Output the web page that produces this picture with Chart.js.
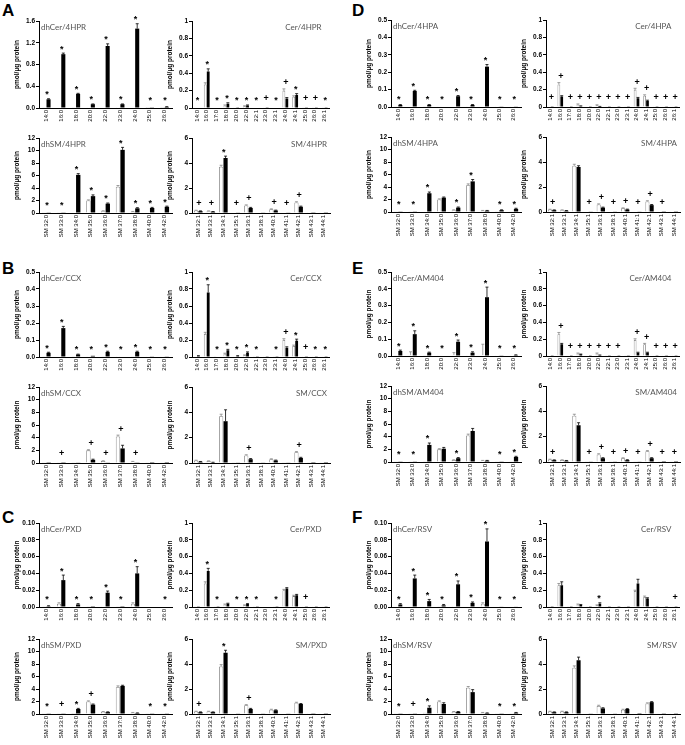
<!DOCTYPE html>
<html>
<head>
<meta charset="utf-8">
<script src="https://cdn.jsdelivr.net/npm/chart.js@4.4.0/dist/chart.umd.min.js"></script>
<style>
  body { margin: 0; width: 685px; height: 745px; background: #fff; position: relative; overflow: hidden; }
  canvas { position: absolute; }
  .lbl { position: absolute; font: bold 17px "Liberation Sans", Arial, sans-serif; line-height: 17px; }
</style>
</head>
<body>
<div class="lbl" style="left:2px;top:2px">A</div>
<div class="lbl" style="left:352px;top:2px">D</div>
<div class="lbl" style="left:2px;top:260px">B</div>
<div class="lbl" style="left:352px;top:260px">E</div>
<div class="lbl" style="left:2px;top:509px">C</div>
<div class="lbl" style="left:352px;top:509px">F</div>
<script>
"use strict";
// categories
const dhCerCats = ["14:0", "16:0", "18:0", "20:0", "22:0", "23:0", "24:0", "25:0", "26:0"];
const cerCats = ["14:0", "16:0", "17:0", "18:0", "20:0", "22:0", "22:1", "23:0", "23:1", "24:0", "24:1", "25:0", "26:0", "26:1"];
const dhSmCats = ["SM 32:0", "SM 33:0", "SM 34:0", "SM 35:0", "SM 36:0", "SM 37:0", "SM 38:0", "SM 40:0", "SM 42:0"];
const smCats = ["SM 32:1", "SM 33:1", "SM 34:1", "SM 35:1", "SM 36:1", "SM 38:1", "SM 40:1", "SM 41:1", "SM 42:1", "SM 43:1", "SM 44:1"];

// tick labels
const ticks16 = ["0.0", "0.4", "0.8", "1.2", "1.6"];
const ticks05 = ["0.0", "0.1", "0.2", "0.3", "0.4", "0.5"];
const ticks010 = ["0.00", "0.02", "0.04", "0.06", "0.08", "0.10"];
const ticks1 = ["0", "0.2", "0.4", "0.6", "0.8", "1"];
const ticks12 = ["0", "2", "4", "6", "8", "10", "12"];
const ticks6 = ["0", "2", "4", "6"];

// A - 4HPR
const aDhCerCtl = [0.005, 0.01, 0.005, 0.003, 0.01, 0.003, 0.01, 0.002, 0.002];
const aDhCerTrt = [0.16, 0.99, 0.26, 0.07, 1.14, 0.07, 1.46, 0.005, 0.02];
const aDhCerErr = [0.01, 0.02, 0.01, 0.005, 0.04, 0.005, 0.09, 0, 0.005];
const aDhCerMk = ["*", "*", "*", "*", "*", "*", "*", "*", "*"];
const aCerCtl = [0.005, 0.27, 0.005, 0.03, 0.01, 0.02, 0.005, 0.01, 0.005, 0.2, 0.13, 0.003, 0.003, 0.003];
const aCerCtlErr = [0, 0.02, 0, 0.005, 0, 0.005, 0, 0, 0, 0.02, 0.01, 0, 0, 0];
const aCerTrt = [0.005, 0.42, 0.005, 0.05, 0.01, 0.03, 0.005, 0.01, 0.005, 0.11, 0.15, 0.002, 0.002, 0.002];
const aCerErr = [0, 0.03, 0, 0.01, 0, 0.005, 0, 0, 0, 0.01, 0.015, 0, 0, 0];
const aCerMk = ["*", "*", "*", "*", "*", "*", "*", "+", "*", "+", "*", "+", "+", "*"];
const aDhSmCtl = [0.05, 0.05, 0.1, 2.0, 0.3, 4.2, 0.2, 0.1, 0.1];
const aDhSmCtlErr = [0, 0, 0, 0.1, 0.05, 0.2, 0.05, 0, 0];
const aDhSmTrt = [0.05, 0.05, 6.1, 2.7, 1.5, 10.1, 0.75, 0.8, 1.0];
const aDhSmErr = [0, 0, 0.2, 0.2, 0.1, 0.4, 0.1, 0.1, 0.1];
const aDhSmMk = ["*", "*", "*", "*", "*", "*", "*", "*", "*"];
const aSmCtl = [0.2, 0.15, 3.7, 0.05, 0.6, 0.05, 0.3, 0.05, 0.85, 0.02, 0.02];
const aSmCtlErr = [0.02, 0.02, 0.12, 0, 0.05, 0, 0.03, 0, 0.05, 0, 0];
const aSmTrt = [0.15, 0.1, 4.4, 0.05, 0.4, 0.05, 0.2, 0.05, 0.5, 0.02, 0.02];
const aSmErr = [0.02, 0.02, 0.15, 0, 0.05, 0, 0.03, 0, 0.05, 0, 0];
const aSmMk = ["+", "+", "*", "+", "+", "", "+", "+", "+", "", ""];

// D - 4HPA
const dDhCerCtl = [0.002, 0.003, 0.002, 0.001, 0.003, 0.001, 0.003, 0.001, 0.001];
const dDhCerTrt = [0.012, 0.092, 0.012, 0.003, 0.062, 0.012, 0.232, 0.002, 0.002];
const dDhCerErr = [0.002, 0.004, 0.002, 0, 0.004, 0.002, 0.012, 0, 0];
const dDhCerMk = ["*", "*", "*", "*", "*", "*", "*", "*", "*"];
const dCerCtl = [0.005, 0.26, 0.005, 0.03, 0.005, 0.02, 0.003, 0.005, 0.003, 0.2, 0.13, 0.002, 0.002, 0.002];
const dCerCtlErr = [0, 0.02, 0, 0.005, 0, 0.005, 0, 0, 0, 0.015, 0.01, 0, 0, 0];
const dCerTrt = [0.003, 0.12, 0.003, 0.01, 0.003, 0.005, 0.002, 0.003, 0.002, 0.1, 0.07, 0.002, 0.002, 0.002];
const dCerErr = [0, 0.01, 0, 0.003, 0, 0.002, 0, 0, 0, 0.01, 0.008, 0, 0, 0];
const dCerMk = ["+", "+", "+", "+", "+", "+", "+", "+", "+", "+", "+", "+", "+", "+"];
const dDhSmCtl = [0.05, 0.05, 0.1, 2.0, 0.3, 4.3, 0.2, 0.05, 0.05];
const dDhSmCtlErr = [0, 0, 0, 0.1, 0.05, 0.2, 0.05, 0, 0];
const dDhSmTrt = [0.05, 0.05, 3.0, 2.3, 0.7, 4.9, 0.2, 0.3, 0.5];
const dDhSmErr = [0, 0, 0.2, 0.1, 0.1, 0.3, 0.05, 0.05, 0.1];
const dDhSmMk = ["*", "*", "*", "", "*", "*", "", "*", "*"];
const dSmCtl = [0.2, 0.15, 3.7, 0.05, 0.6, 0.05, 0.3, 0.05, 0.85, 0.02, 0.02];
const dSmCtlErr = [0.02, 0.02, 0.12, 0, 0.05, 0, 0.03, 0, 0.05, 0, 0];
const dSmTrt = [0.15, 0.1, 3.6, 0.05, 0.35, 0.05, 0.2, 0.05, 0.55, 0.02, 0.02];
const dSmErr = [0.02, 0.02, 0.1, 0, 0.04, 0, 0.03, 0, 0.05, 0, 0];
const dSmMk = ["+", "", "", "+", "+", "+", "+", "+", "+", "+", ""];

// B - CCX
const bDhCerCtl = [0.002, 0.003, 0.002, 0.001, 0.002, 0.001, 0.002, 0.001, 0.001];
const bDhCerTrt = [0.025, 0.17, 0.015, 0.007, 0.03, 0.003, 0.03, 0.002, 0.002];
const bDhCerErr = [0.003, 0.01, 0.002, 0, 0.004, 0, 0.004, 0, 0];
const bDhCerMk = ["*", "*", "*", "*", "*", "*", "*", "*", "*"];
const bCerCtl = [0.005, 0.27, 0.003, 0.04, 0.01, 0.02, 0.003, 0.01, 0.003, 0.2, 0.13, 0.002, 0.002, 0.002];
const bCerCtlErr = [0, 0.02, 0, 0.005, 0, 0.005, 0, 0, 0, 0.015, 0.01, 0, 0, 0];
const bCerTrt = [0.02, 0.76, 0.005, 0.08, 0.02, 0.05, 0.01, 0.01, 0.003, 0.11, 0.19, 0.002, 0.002, 0.01];
const bCerErr = [0, 0.09, 0, 0.01, 0, 0.01, 0, 0, 0, 0.01, 0.02, 0, 0, 0];
const bCerMk = ["", "*", "*", "*", "*", "*", "*", "", "*", "+", "*", "+", "*", "*"];
const bDhSmCtl = [0.05, 0.05, 0.1, 2.0, 0.3, 4.2, 0.2, 0.05, 0.05];
const bDhSmCtlErr = [0, 0, 0, 0.1, 0.05, 0.2, 0.05, 0, 0];
const bDhSmTrt = [0.03, 0.03, 0.1, 0.5, 0.1, 2.3, 0.05, 0.02, 0.02];
const bDhSmErr = [0, 0, 0, 0.1, 0, 0.5, 0, 0, 0];
const bDhSmMk = ["", "+", "", "+", "+", "+", "+", "", ""];
const bSmCtl = [0.2, 0.15, 3.7, 0.05, 0.6, 0.05, 0.3, 0.05, 0.85, 0.02, 0.02];
const bSmCtlErr = [0.02, 0.02, 0.15, 0, 0.05, 0, 0.03, 0, 0.05, 0, 0];
const bSmTrt = [0.1, 0.05, 3.3, 0.03, 0.3, 0.03, 0.2, 0.03, 0.4, 0.01, 0.01];
const bSmErr = [0.02, 0.01, 0.9, 0, 0.05, 0, 0.03, 0, 0.05, 0, 0];
const bSmMk = ["", "", "", "", "+", "", "", "", "+", "", ""];

// E - AM404
const eDhCerCtl = [0.002, 0.005, 0.002, 0.001, 0.005, 0.001, 0.005, 0.001, 0.001];
const eDhCerCtlErr = [0, 0.02, 0, 0, 0.015, 0, 0.065, 0, 0];
const eDhCerTrt = [0.03, 0.13, 0.02, 0.003, 0.085, 0.02, 0.35, 0.002, 0.005];
const eDhCerErr = [0.005, 0.02, 0.003, 0, 0.01, 0.005, 0.06, 0, 0.002];
const eDhCerMk = ["*", "*", "*", "*", "*", "*", "*", "*", "*"];
const eCerCtl = [0.005, 0.26, 0.005, 0.03, 0.005, 0.03, 0.003, 0.005, 0.003, 0.19, 0.14, 0.002, 0.002, 0.002];
const eCerCtlErr = [0, 0.02, 0, 0.005, 0, 0.005, 0, 0, 0, 0.015, 0.01, 0, 0, 0];
const eCerTrt = [0.003, 0.14, 0.003, 0.02, 0.003, 0.01, 0.002, 0.003, 0.002, 0.04, 0.04, 0.002, 0.002, 0.002];
const eCerErr = [0, 0.01, 0, 0.003, 0, 0.002, 0, 0, 0, 0.005, 0.005, 0, 0, 0];
const eCerMk = ["", "+", "+", "+", "+", "+", "+", "+", "", "+", "+", "+", "+", "+"];
const eDhSmCtl = [0.05, 0.05, 0.1, 2.0, 0.3, 4.2, 0.2, 0.05, 0.05];
const eDhSmCtlErr = [0, 0, 0, 0.1, 0.05, 0.2, 0.05, 0, 0];
const eDhSmTrt = [0.05, 0.05, 2.7, 2.1, 0.6, 4.9, 0.2, 0.05, 0.8];
const eDhSmErr = [0, 0, 0.3, 0.2, 0.1, 0.4, 0.05, 0, 0.1];
const eDhSmMk = ["*", "*", "*", "", "*", "", "", "*", "*"];
const eSmCtl = [0.2, 0.15, 3.65, 0.05, 0.6, 0.05, 0.3, 0.05, 0.85, 0.02, 0.02];
const eSmCtlErr = [0.02, 0.02, 0.12, 0, 0.05, 0, 0.03, 0, 0.05, 0, 0];
const eSmTrt = [0.15, 0.1, 2.9, 0.05, 0.3, 0.05, 0.15, 0.03, 0.3, 0.01, 0.01];
const eSmErr = [0.02, 0.02, 0.2, 0, 0.04, 0, 0.03, 0, 0.04, 0, 0];
const eSmMk = ["+", "", "", "+", "+", "+", "+", "+", "+", "+", "+"];

// C - PXD
const cDhCerCtl = [0.0003, 0.004, 0.001, 0.0003, 0.001, 0.0003, 0.004, 0, 0];
const cDhCerCtlErr = [0, 0.001, 0, 0, 0, 0, 0.001, 0, 0];
const cDhCerTrt = [0.001, 0.032, 0.003, 0.001, 0.017, 0.001, 0.04, 0, 0];
const cDhCerErr = [0.0005, 0.006, 0.001, 0, 0.002, 0, 0.008, 0, 0];
const cDhCerMk = ["*", "*", "*", "*", "*", "*", "*", "", "*"];
const cCerCtl = [0.003, 0.28, 0.003, 0.03, 0.005, 0.02, 0.003, 0.005, 0.003, 0.2, 0.13, 0.002, 0.002, 0.002];
const cCerCtlErr = [0, 0.02, 0, 0.005, 0, 0.005, 0, 0, 0, 0.01, 0.01, 0, 0, 0];
const cCerTrt = [0.003, 0.43, 0.003, 0.04, 0.005, 0.035, 0.003, 0.005, 0.003, 0.22, 0.14, 0.002, 0.002, 0.002];
const cCerErr = [0, 0.03, 0, 0.005, 0, 0.005, 0, 0, 0, 0.01, 0.01, 0, 0, 0];
const cCerMk = ["", "*", "*", "", "*", "*", "*", "", "*", "", "", "+", "", ""];
const cDhSmCtl = [0.05, 0.05, 0.15, 2.0, 0.35, 4.3, 0.2, 0.05, 0.05];
const cDhSmCtlErr = [0, 0, 0, 0.1, 0.05, 0.2, 0.05, 0, 0];
const cDhSmTrt = [0.05, 0.05, 0.8, 1.5, 0.3, 4.5, 0.15, 0.05, 0.05];
const cDhSmErr = [0, 0, 0.1, 0.1, 0.05, 0.1, 0.03, 0, 0];
const cDhSmMk = ["*", "+", "*", "+", "", "", "", "*", "*"];
const cSmCtl = [0.2, 0.2, 3.8, 0.05, 0.7, 0.05, 0.35, 0.05, 0.9, 0.02, 0.02];
const cSmCtlErr = [0.02, 0.02, 0.15, 0, 0.05, 0, 0.03, 0, 0.04, 0, 0];
const cSmTrt = [0.15, 0.15, 4.9, 0.05, 0.4, 0.05, 0.3, 0.05, 0.8, 0.02, 0.02];
const cSmErr = [0.02, 0.02, 0.2, 0, 0.05, 0, 0.03, 0, 0.04, 0, 0];
const cSmMk = ["+", "", "*", "", "+", "", "", "", "", "", ""];

// F - RSV
const fDhCerCtl = [0.0005, 0.001, 0.0005, 0.0003, 0.001, 0.0005, 0.004, 0, 0];
const fDhCerCtlErr = [0, 0, 0, 0, 0, 0, 0.001, 0, 0];
const fDhCerTrt = [0.003, 0.034, 0.007, 0.002, 0.027, 0.005, 0.078, 0.0005, 0.0005];
const fDhCerErr = [0.001, 0.004, 0.002, 0.001, 0.004, 0.001, 0.015, 0, 0];
const fDhCerMk = ["*", "*", "*", "*", "*", "*", "*", "*", "*"];
const fCerCtl = [0.003, 0.26, 0.003, 0.03, 0.003, 0.02, 0.003, 0.005, 0.003, 0.19, 0.12, 0.002, 0.002, 0.002];
const fCerCtlErr = [0, 0.02, 0, 0.005, 0, 0.005, 0, 0, 0, 0.01, 0.01, 0, 0, 0];
const fCerTrt = [0.003, 0.26, 0.003, 0.025, 0.003, 0.04, 0.003, 0.003, 0.003, 0.28, 0.1, 0.002, 0.002, 0.002];
const fCerErr = [0, 0.04, 0, 0.005, 0, 0.01, 0, 0, 0, 0.05, 0.01, 0, 0, 0];
const fCerMk = ["", "", "", "", "", "*", "", "", "", "", "", "", "", "+"];
const fDhSmCtl = [0.05, 0.05, 0.2, 2.0, 0.35, 4.2, 0.2, 0.05, 0.05];
const fDhSmCtlErr = [0, 0, 0, 0.1, 0.05, 0.2, 0.05, 0, 0];
const fDhSmTrt = [0.05, 0.05, 1.0, 1.6, 0.35, 3.5, 0.15, 0.05, 0.2];
const fDhSmErr = [0, 0, 0.3, 0.2, 0.05, 0.4, 0.03, 0, 0.05];
const fDhSmMk = ["*", "+", "*", "", "", "", "", "*", "*"];
const fSmCtl = [0.2, 0.2, 3.7, 0.05, 0.65, 0.05, 0.35, 0.05, 0.85, 0.02, 0.02];
const fSmCtlErr = [0.02, 0.02, 0.15, 0, 0.05, 0, 0.03, 0, 0.04, 0, 0];
const fSmTrt = [0.15, 0.15, 4.3, 0.05, 0.45, 0.05, 0.4, 0.07, 0.95, 0.02, 0.02];
const fSmErr = [0.02, 0.02, 0.25, 0, 0.05, 0, 0.03, 0, 0.04, 0, 0];
const fSmMk = ["", "", "", "", "", "", "", "", "", "", ""];

// error bars, significance marks and the chart name
function extras(c) {
  return {
    id: "extras",
    afterDatasetsDraw(chart) {
      const ctx = chart.ctx;
      const ys = chart.scales.y;
      const area = chart.chartArea;
      const vals = [c.ctl, c.trt];
      const errs = [c.ctlErr, c.trtErr];
      ctx.save();
      for (let d = 0; d < 2; d++) {
        const bars = chart.getDatasetMeta(d).data;
        ctx.strokeStyle = d ? "#000" : "#888";
        ctx.lineWidth = 0.8;
        for (let i = 0; i < bars.length; i++) {
          const e = errs[d][i];
          if (!e) continue;
          const x = bars[i].x;
          const y0 = ys.getPixelForValue(vals[d][i]);
          const y1 = ys.getPixelForValue(vals[d][i] + e);
          ctx.beginPath();
          ctx.moveTo(x, y0);
          ctx.lineTo(x, y1);
          ctx.moveTo(x - 1.5, y1);
          ctx.lineTo(x + 1.5, y1);
          ctx.stroke();
        }
      }
      const b0 = chart.getDatasetMeta(0).data;
      const b1 = chart.getDatasetMeta(1).data;
      ctx.fillStyle = "#000";
      ctx.textAlign = "center";
      ctx.textBaseline = "middle";
      c.mk.forEach(function (m, i) {
        if (!m) return;
        const hi = Math.max(c.ctl[i] + c.ctlErr[i], c.trt[i] + c.trtErr[i]);
        const cy = Math.min(ys.getPixelForValue(hi) - 6, area.bottom - 9);
        const cx = (b0[i].x + b1[i].x) / 2 + 0.5;
        if (m === "*") {
          ctx.font = "bold 9px 'Liberation Sans'";
          ctx.fillText(m, cx, cy + 2);
        } else {
          ctx.font = "bold 9px 'Liberation Sans'";
          ctx.fillText(m, cx, cy);
        }
      });
      ctx.font = "8px Lato";
      ctx.fillStyle = "#555";
      ctx.textBaseline = "top";
      if (c.right) {
        ctx.textAlign = "right";
        ctx.fillText(c.title, area.right - c.inset, area.top + 2);
      } else {
        ctx.textAlign = "left";
        ctx.fillText(c.title, area.left + 2, area.top + 2);
      }
      ctx.restore();
    }
  };
}

const padTop = 6;
const yBox = 26;

function makeChart(c) {
  const cv = document.createElement("canvas");
  const w = c.x1 - c.x0 + yBox + 4;
  const h = c.y1 - c.y0 + padTop + c.lab;
  cv.width = w;
  cv.height = h;
  cv.style.left = (c.x0 - yBox) + "px";
  cv.style.top = (c.y0 - padTop) + "px";
  cv.style.width = w + "px";
  cv.style.height = h + "px";
  document.body.appendChild(cv);

  new Chart(cv, {
    type: "bar",
    data: {
      labels: c.cats,
      datasets: [
        { data: c.ctl, backgroundColor: "#fff", borderColor: "#777", borderWidth: 0.8 },
        { data: c.trt, backgroundColor: "#000", borderColor: "#000", borderWidth: 0 }
      ]
    },
    options: {
      responsive: false,
      animation: false,
      devicePixelRatio: 1,
      layout: { padding: { top: padTop, right: 4, left: 0, bottom: 0 } },
      datasets: { bar: { categoryPercentage: c.pct, barPercentage: 0.95 } },
      plugins: { legend: { display: false }, tooltip: { enabled: false } },
      scales: {
        x: {
          grid: { display: false, drawTicks: false },
          border: { color: "#000", width: 1 },
          ticks: {
            autoSkip: false, minRotation: 90, maxRotation: 90, padding: 2, color: "#000",
            font: { family: "Liberation Sans", size: 6 }
          },
          afterFit: function (s) { s.height = c.lab; }
        },
        y: {
          min: 0,
          max: Number(c.ticks[c.ticks.length - 1]),
          afterBuildTicks: function (s) {
            s.ticks = c.ticks.map(function (t) { return { value: Number(t) }; });
          },
          grid: { drawOnChartArea: false, drawTicks: true, tickLength: 3, color: "#000" },
          border: { color: "#000", width: 1 },
          ticks: {
            padding: 1, color: "#000",
            font: { family: "Liberation Sans", size: 6.5, weight: "bold" },
            callback: function (v, i) { return c.ticks[i]; }
          },
          title: {
            display: true, text: "pmol/µg protein", padding: 0, color: "#000",
            font: { family: "Liberation Sans", size: 6.5, weight: "bold" }
          },
          afterFit: function (s) { s.width = yBox; }
        }
      }
    },
    plugins: [extras(c)]
  });
}

// column x ranges (axis, end) and row y ranges (top, zero line)
const colL = { dh: [39, 172], cer: [192, 330] };
const colR = { dh: [391, 521], cer: [546, 680] };

function panel(col, top, bottom, p) {
  makeChart({ x0: col.dh[0], x1: col.dh[1], y0: top[0], y1: top[1], lab: 18, pct: 0.58,
    cats: dhCerCats, ctl: p[0], ctlErr: p[1], trt: p[2], trtErr: p[3], mk: p[4], ticks: p[5], title: p[6], right: false });
  makeChart({ x0: col.cer[0], x1: col.cer[1], y0: top[0], y1: top[1], lab: 18, pct: 0.6,
    cats: cerCats, ctl: p[7], ctlErr: p[8], trt: p[9], trtErr: p[10], mk: p[11], ticks: ticks1, title: p[12], right: true, inset: 8 });
  makeChart({ x0: col.dh[0], x1: col.dh[1], y0: bottom[0], y1: bottom[1], lab: 28, pct: 0.62,
    cats: dhSmCats, ctl: p[13], ctlErr: p[14], trt: p[15], trtErr: p[16], mk: p[17], ticks: ticks12, title: p[18], right: false });
  makeChart({ x0: col.cer[0], x1: col.cer[1], y0: bottom[0], y1: bottom[1], lab: 28, pct: 0.7,
    cats: smCats, ctl: p[19], ctlErr: p[20], trt: p[21], trtErr: p[22], mk: p[23], ticks: ticks6, title: p[24], right: true, inset: 3 });
}

const zeros9 = [0, 0, 0, 0, 0, 0, 0, 0, 0];

panel(colL, [21, 108], [138, 213], [
  aDhCerCtl, zeros9, aDhCerTrt, aDhCerErr, aDhCerMk, ticks16, "dhCer/4HPR",
  aCerCtl, aCerCtlErr, aCerTrt, aCerErr, aCerMk, "Cer/4HPR",
  aDhSmCtl, aDhSmCtlErr, aDhSmTrt, aDhSmErr, aDhSmMk, "dhSM/4HPR",
  aSmCtl, aSmCtlErr, aSmTrt, aSmErr, aSmMk, "SM/4HPR"]);
panel(colR, [20, 107], [137, 212], [
  dDhCerCtl, zeros9, dDhCerTrt, dDhCerErr, dDhCerMk, ticks05, "dhCer/4HPA",
  dCerCtl, dCerCtlErr, dCerTrt, dCerErr, dCerMk, "Cer/4HPA",
  dDhSmCtl, dDhSmCtlErr, dDhSmTrt, dDhSmErr, dDhSmMk, "dhSM/4HPA",
  dSmCtl, dSmCtlErr, dSmTrt, dSmErr, dSmMk, "SM/4HPA"]);
panel(colL, [272, 357], [387, 463], [
  bDhCerCtl, zeros9, bDhCerTrt, bDhCerErr, bDhCerMk, ticks05, "dhCer/CCX",
  bCerCtl, bCerCtlErr, bCerTrt, bCerErr, bCerMk, "Cer/CCX",
  bDhSmCtl, bDhSmCtlErr, bDhSmTrt, bDhSmErr, bDhSmMk, "dhSM/CCX",
  bSmCtl, bSmCtlErr, bSmTrt, bSmErr, bSmMk, "SM/CCX"]);
panel(colR, [272, 356], [386, 462], [
  eDhCerCtl, eDhCerCtlErr, eDhCerTrt, eDhCerErr, eDhCerMk, ticks05, "dhCer/AM404",
  eCerCtl, eCerCtlErr, eCerTrt, eCerErr, eCerMk, "Cer/AM404",
  eDhSmCtl, eDhSmCtlErr, eDhSmTrt, eDhSmErr, eDhSmMk, "dhSM/AM404",
  eSmCtl, eSmCtlErr, eSmTrt, eSmErr, eSmMk, "SM/AM404"]);
panel(colL, [523, 607], [639, 714], [
  cDhCerCtl, cDhCerCtlErr, cDhCerTrt, cDhCerErr, cDhCerMk, ticks010, "dhCer/PXD",
  cCerCtl, cCerCtlErr, cCerTrt, cCerErr, cCerMk, "Cer/PXD",
  cDhSmCtl, cDhSmCtlErr, cDhSmTrt, cDhSmErr, cDhSmMk, "dhSM/PXD",
  cSmCtl, cSmCtlErr, cSmTrt, cSmErr, cSmMk, "SM/PXD"]);
panel(colR, [523, 607], [639, 714], [
  fDhCerCtl, fDhCerCtlErr, fDhCerTrt, fDhCerErr, fDhCerMk, ticks010, "dhCer/RSV",
  fCerCtl, fCerCtlErr, fCerTrt, fCerErr, fCerMk, "Cer/RSV",
  fDhSmCtl, fDhSmCtlErr, fDhSmTrt, fDhSmErr, fDhSmMk, "dhSM/RSV",
  fSmCtl, fSmCtlErr, fSmTrt, fSmErr, fSmMk, "SM/RSV"]);
</script>
</body>
</html>
